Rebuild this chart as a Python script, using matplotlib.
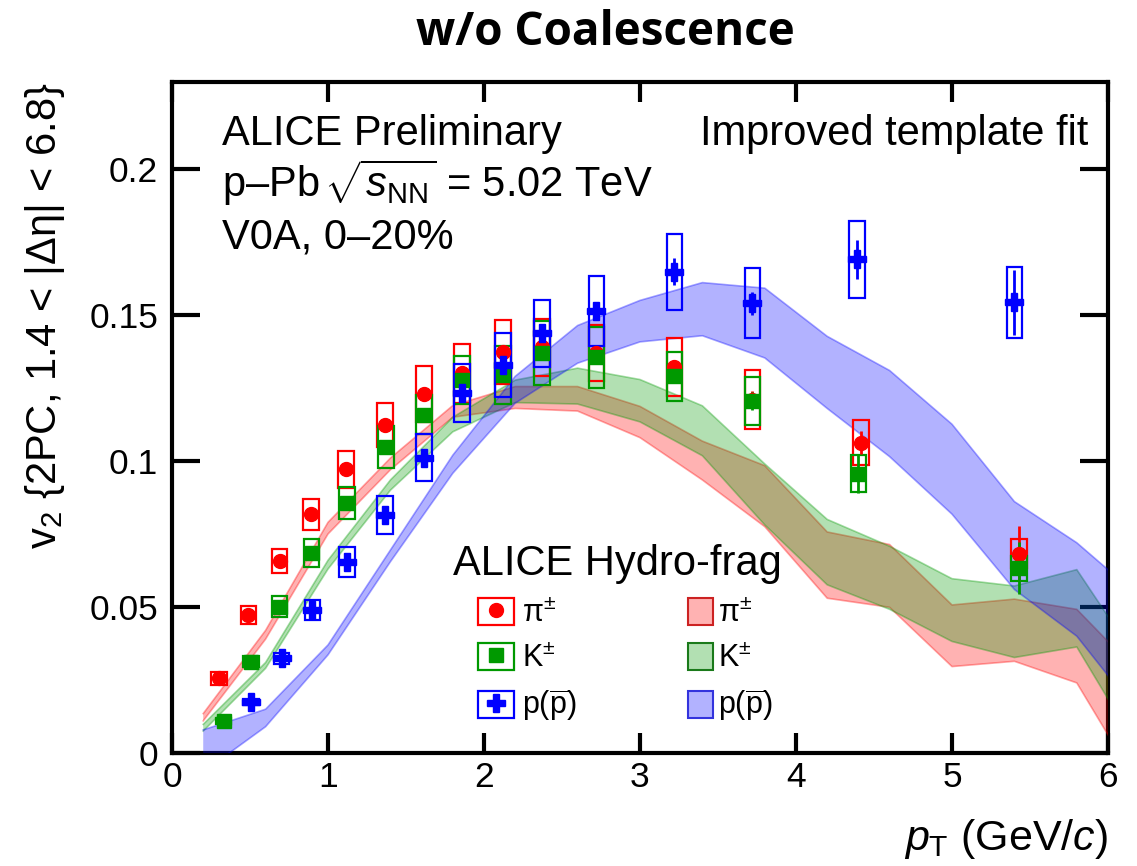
import matplotlib
matplotlib.use("Agg")
import matplotlib.pyplot as plt
from matplotlib.patches import Patch
from matplotlib.lines import Line2D
from matplotlib.legend_handler import HandlerTuple

plt.rcParams['font.family'] = ['Liberation Sans', 'DejaVu Sans']
plt.rcParams['mathtext.fontset'] = 'custom'
plt.rcParams['mathtext.rm'] = 'Liberation Sans'
plt.rcParams['mathtext.it'] = 'Liberation Sans:italic'
plt.rcParams['mathtext.bf'] = 'Liberation Sans:bold'

# --- data points (v2 vs pT) ---
pi_x = [0.30, 0.49, 0.69, 0.89, 1.115, 1.365, 1.617, 1.86, 2.12, 2.37, 2.72, 3.22, 3.72, 4.415, 5.43]
pi_y = [0.0256, 0.0473, 0.0658, 0.0817, 0.0971, 0.1123, 0.1229, 0.130, 0.1374, 0.139, 0.137, 0.1322, 0.121, 0.1063, 0.0683]
pi_sys = [0.0022, 0.0032, 0.0042, 0.0053, 0.0063, 0.0076, 0.0095, 0.010, 0.011, 0.0098, 0.0097, 0.010, 0.010, 0.0077, 0.005]
pi_stat = [0.0005, 0.0005, 0.0005, 0.0005, 0.0005, 0.0006, 0.0007, 0.0008, 0.001, 0.001, 0.0015, 0.002, 0.003, 0.004, 0.0095]

k_x = [0.33, 0.506, 0.69, 0.895, 1.12, 1.37, 1.617, 1.86, 2.12, 2.37, 2.72, 3.22, 3.72, 4.40, 5.43]
k_y = [0.011, 0.0313, 0.0501, 0.0684, 0.0855, 0.1049, 0.1158, 0.1277, 0.1295, 0.137, 0.1355, 0.129, 0.1205, 0.0957, 0.0633]
k_sys = [0.001, 0.0018, 0.0035, 0.0048, 0.0055, 0.0072, 0.0067, 0.0083, 0.010, 0.011, 0.0105, 0.0083, 0.0082, 0.0064, 0.0043]
k_stat = [0.0005, 0.0005, 0.0005, 0.0005, 0.0005, 0.0006, 0.0007, 0.0008, 0.001, 0.001, 0.0015, 0.002, 0.003, 0.0065, 0.009]

p_x = [0.506, 0.703, 0.90, 1.12, 1.365, 1.617, 1.86, 2.12, 2.37, 2.72, 3.22, 3.72, 4.39, 5.40]
p_y = [0.0176, 0.0324, 0.049, 0.0655, 0.0815, 0.1012, 0.1232, 0.1329, 0.1437, 0.1515, 0.1648, 0.154, 0.1691, 0.1543]
p_sys = [0.001, 0.0018, 0.0035, 0.0051, 0.0066, 0.0079, 0.0099, 0.0109, 0.0116, 0.012, 0.013, 0.012, 0.0132, 0.0122]
p_stat = [0.0005, 0.0005, 0.0005, 0.0005, 0.0006, 0.0007, 0.0008, 0.001, 0.0012, 0.0015, 0.0046, 0.004, 0.0067, 0.011]

# --- Hydro-frag bands ---
band_x = [0.2, 0.6, 1.0, 1.4, 1.8, 2.2, 2.6, 3.0, 3.4, 3.8, 4.2, 4.6, 5.0, 5.4, 5.8, 6.0]
pi_lo = [0.011, 0.039, 0.075, 0.097, 0.115, 0.118, 0.1171, 0.108, 0.0935, 0.0775, 0.053, 0.0499, 0.0296, 0.0314, 0.024, 0.0062]
pi_hi = [0.0135, 0.042, 0.079, 0.101, 0.119, 0.1255, 0.1255, 0.1187, 0.1068, 0.0984, 0.0757, 0.0714, 0.0507, 0.0527, 0.0492, 0.0382]
k_lo = [0.0075, 0.029, 0.063, 0.090, 0.110, 0.120, 0.1195, 0.1134, 0.1018, 0.0781, 0.0576, 0.0492, 0.0382, 0.0327, 0.0363, 0.0185]
k_hi = [0.0098, 0.031, 0.066, 0.0935, 0.115, 0.1277, 0.1318, 0.1279, 0.1189, 0.099, 0.080, 0.0708, 0.0597, 0.0572, 0.0628, 0.0468]
p_lo = [-0.0065, 0.009, 0.0336, 0.0655, 0.0958, 0.1198, 0.1335, 0.1408, 0.1429, 0.1353, 0.118, 0.1015, 0.0818, 0.056, 0.040, 0.0265]
p_hi = [0.0079, 0.015, 0.037, 0.0695, 0.102, 0.129, 0.1464, 0.155, 0.1611, 0.1592, 0.1427, 0.131, 0.1126, 0.0861, 0.072, 0.0628]

RED = '#ff0000'
GREEN = '#009900'
BLUE = '#0000ff'

fig = plt.figure(figsize=(11.37, 8.66), dpi=100)
ax = fig.add_axes([0.1513, 0.1305, 0.8232, 0.7748])

# bands
for lo, hi, c in [(pi_lo, pi_hi, RED), (k_lo, k_hi, GREEN), (p_lo, p_hi, BLUE)]:
    ax.fill_between(band_x, lo, hi, facecolor=c, alpha=0.3, edgecolor='none', zorder=3)
    ax.plot(band_x, lo, color=c, alpha=0.35, lw=1.2, zorder=3)
    ax.plot(band_x, hi, color=c, alpha=0.35, lw=1.2, zorder=3)

# data points with sys boxes
series = [
    (pi_x, pi_y, pi_sys, pi_stat, RED, 'o', 10),
    (k_x, k_y, k_sys, k_stat, GREEN, 's', 10),
    (p_x, p_y, p_sys, p_stat, BLUE, 'P', 13),
]
for xs, ys, sy, st, c, m, ms in series:
    ax.bar(xs, [2 * s for s in sy], bottom=[y - s for y, s in zip(ys, sy)], width=0.1,
           fill=False, edgecolor=c, linewidth=1.6, zorder=4)
    ax.errorbar(xs, ys, yerr=st, fmt=m, color=c, ms=ms, mec=c, elinewidth=2,
                capsize=0, zorder=5)

ax.set_xlim(0, 6)
ax.set_ylim(0, 0.2298)
ax.set_xticks([0, 1, 2, 3, 4, 5, 6])
ax.set_yticks([0, 0.05, 0.1, 0.15, 0.2])
ax.set_yticklabels(['0', '0.05', '0.1', '0.15', '0.2'])
ax.tick_params(direction='in', top=True, right=True, width=3, labelsize=25.5)
ax.tick_params(axis='x', length=14.5, pad=6)
ax.tick_params(axis='y', length=20, pad=10)
for sp in ax.spines.values():
    sp.set_linewidth(3)
ax.set_axisbelow(True)

ax.set_xlabel(r'$p_{\rm T}$ (GeV/$c$)', fontsize=31, loc='right', labelpad=16)
ax.set_ylabel(r'v$_2$ {2PC, 1.4 < |Δη| < 6.8}', fontsize=30, loc='top', labelpad=16)

ax.text(0.0534, 0.906, 'ALICE Preliminary', transform=ax.transAxes, fontsize=30, va='baseline')
ax.text(0.9786, 0.906, 'Improved template fit', transform=ax.transAxes, fontsize=30,
        va='baseline', ha='right')
ax.text(0.0534, 0.8286, r'p–Pb$\,\sqrt{s_{\rm NN}}$ = 5.02 TeV', transform=ax.transAxes,
        fontsize=30, va='baseline')
ax.text(0.0534, 0.7526, 'V0A, 0–20%', transform=ax.transAxes, fontsize=30, va='baseline')
ax.text(0.3002, 0.265, 'ALICE Hydro-frag', transform=ax.transAxes, fontsize=30, va='baseline')

fig.text(0.532, 0.948, 'w/o Coalescence', fontsize=33, fontweight='bold',
         family=['Open Sans', 'DejaVu Sans'], ha='center', va='baseline')

# legends
labels = [r'π$^{\pm}$', r'K$^{\pm}$', r'p($\overline{\rm p}$)']
data_handles = []
for c, m, ms in [(RED, 'o', 10), (GREEN, 's', 10), (BLUE, 'P', 13)]:
    box = Patch(facecolor='none', edgecolor=c, linewidth=1.6)
    mk = Line2D([], [], marker=m, color=c, ls='none', ms=ms)
    data_handles.append((box, mk))
leg1 = ax.legend(data_handles, labels, handler_map={tuple: HandlerTuple(ndivide=1)},
                 loc='upper left', bbox_to_anchor=(0.327, 0.231), frameon=False,
                 fontsize=22, handlelength=1.18, handleheight=1.0, handletextpad=0.26,
                 labelspacing=0.45, borderpad=0, borderaxespad=0)
ax.add_artist(leg1)

band_handles = []
for c, ec in [(RED, '#cc2222'), (GREEN, '#1a7a1a'), (BLUE, '#3333dd')]:
    band_handles.append(Patch(facecolor=matplotlib.colors.to_rgba(c, 0.3), edgecolor=ec, linewidth=1.5))
leg2 = ax.legend(band_handles, labels, loc='upper left', bbox_to_anchor=(0.551, 0.231),
                 frameon=False, fontsize=22, handlelength=0.82, handleheight=1.0,
                 handletextpad=0.16, labelspacing=0.45, borderpad=0, borderaxespad=0)

fig.savefig('out.png', dpi=100)
